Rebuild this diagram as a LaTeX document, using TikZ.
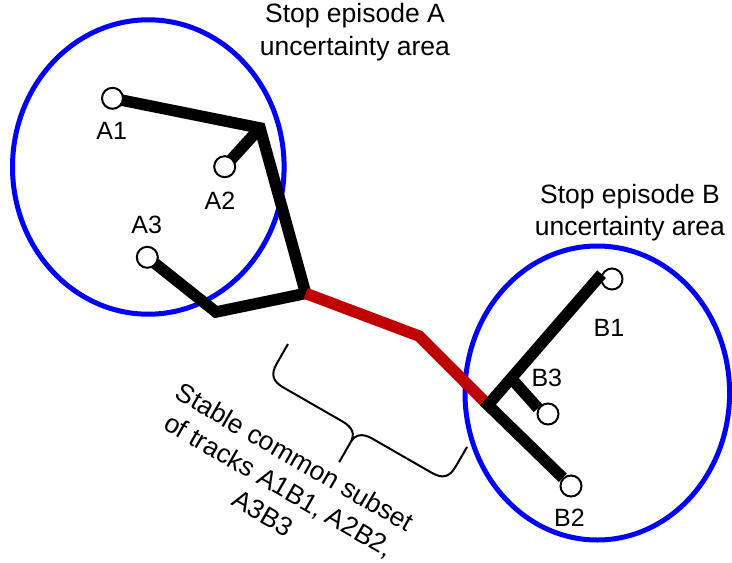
\documentclass[tikz,border=0pt]{standalone}
\usepackage{fontspec}
\setmainfont{Liberation Sans}
\pgfdeclarelayer{back}
\pgfsetlayers{back,main}
\definecolor{areablue}{RGB}{0,0,255}
\definecolor{trackred}{RGB}{192,0,0}
\begin{document}
\begin{tikzpicture}[x=1pt,y=-1pt,
  area/.style={draw=areablue,line width=5pt},
  track/.style={draw=black,line width=11.5pt},
  sharedtrack/.style={draw=trackred,line width=11.5pt},
  stopcirc/.style={circle,draw=black,fill=white,line width=2pt,minimum size=21pt,inner sep=0pt},
  lbl/.style={font=\fontsize{25}{30}\selectfont,inner sep=0pt},
  title/.style={font=\fontsize{26.5}{32.3}\selectfont,align=center,inner sep=0pt},
  bracestyle/.style={draw=black,line width=2pt}]
\useasboundingbox (0,0) rectangle (732,563);

% stop points
\node[stopcirc] (A1) at (112.5,98.3) {};
\node[stopcirc] (A2) at (224.7,166.7) {};
\node[stopcirc] (A3) at (147.3,257.3) {};
\node[stopcirc] (B1) at (612,279) {};
\node[stopcirc] (B2) at (571,486) {};
\node[stopcirc] (B3) at (548,414) {};

% junctions and bends
\coordinate (ca) at (260,128);
\coordinate (cb) at (216,312);
\coordinate (ja) at (305.7,293.4);
\coordinate (cr) at (419,336);
\coordinate (jb) at (488,405);
\coordinate (bb) at (511,378);

\begin{pgfonlayer}{back}
\draw[area] (148.3,167) ellipse [x radius=135.8pt, y radius=147.2pt];
\draw[area] (597.3,393) ellipse [x radius=132.3pt, y radius=147pt];
\draw[track] (A1.center) -- (ca) -- (ja) -- (cb) -- (A3.center);
\draw[track] (A2.center) -- (ca);
\end{pgfonlayer}

\draw[sharedtrack] (ja) -- (cr) -- (jb);
\draw[track] (B1.155) -- (jb) -- (B2.135);
\draw[track] (bb) -- (B3.150);

% labels
\node[lbl] (tA1) at (111.7,130.8) {A1};
\node[lbl] (tA2) at (220,200.5) {A2};
\node[lbl] (tA3) at (146.7,225) {A3};
\node[lbl] (tB1) at (609,328.3) {B1};
\node[lbl] (tB3) at (546.8,378) {B3};
\node[lbl] (tB2) at (569.5,517.5) {B2};

\node[title] (titleA) at (355,32.2) {Stop episode A\\uncertainty area};
\node[title] (titleB) at (630,212.8) {Stop episode B\\uncertainty area};

% brace
\begin{scope}[shift={(288,344)},rotate=-29.9]
\draw[bracestyle] (0,0) -- (0,22) .. controls (0,35) and (5,40) .. (18,40) -- (86,40)
  .. controls (98,40) and (103.25,45) .. (103.25,54) -- (103.25,77)
  (103.25,54) .. controls (103.25,45) and (108.5,40) .. (120.5,40) -- (188.5,40)
  .. controls (201.5,40) and (206.5,35) .. (206.5,22) -- (206.5,0);
\end{scope}

\node[title,rotate=-30] (subset) at (279,485) {Stable common subset\\of tracks A1B1, A2B2,\\A3B3};
\end{tikzpicture}
\end{document}
